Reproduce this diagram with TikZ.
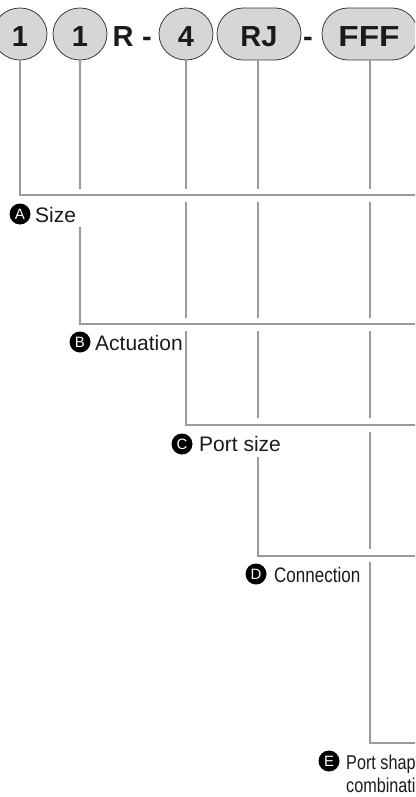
\documentclass[tikz,border=0pt]{standalone}
\usepackage{fontspec}
\setmainfont{Liberation Sans}
\usetikzlibrary{shapes.geometric,shapes.misc}
\definecolor{linegray}{HTML}{9A9A9A}
\definecolor{edgegray}{HTML}{3A3A3A}
\definecolor{fillgray}{HTML}{D6D6D6}
\definecolor{txt}{HTML}{1A1A1A}
\tikzset{
 ln/.style={draw=linegray, line width=1.4pt, line cap=butt},
 shp/.style={draw=edgegray, fill=fillgray, line width=0.8pt, inner sep=0pt},
 ell/.style={shp, ellipse, minimum width=54pt, minimum height=52pt},
 pill/.style={shp, rounded rectangle, minimum height=52pt},
 big/.style={font=\fontsize{29}{29}\selectfont\bfseries, text=txt, inner sep=0pt, anchor=base},
 badge/.style={circle, fill=black, text=white, minimum size=21pt, inner sep=0pt, font=\fontsize{15}{15}\selectfont},
 lbl/.style={font=\fontsize{21}{21}\selectfont, text=txt, inner sep=0pt, anchor=base west},
 lbls/.style={font=\fontsize{20}{20}\selectfont, text=txt, inner sep=0pt, anchor=base west},
}
\begin{document}
\begin{tikzpicture}[x=1pt,y=-1pt]
\useasboundingbox (0,0) rectangle (415,797);
\clip (0,0) rectangle (415,797);
% top code shapes
\node[ell] (n1) at (20,34) {};
\node[ell] (n2) at (80,34) {};
\node[ell] (n3) at (186,34) {};
\node[pill, minimum width=84pt] (n4) at (259,34) {};
\node[pill, minimum width=96pt] (n5) at (370,34) {};
\node[big] (t1) at (20,47) {1};
\node[big] (t2) at (80,47) {1};
\node[big] (tR) at (123,47) {R};
\node[big] (d1) at (147,47) {-};
\node[big] (t3) at (186,47) {4};
\node[big] (t4) at (259,47) {RJ};
\node[big] (d2) at (308,47) {-};
\node[big] (t5) at (369,47) {\scalebox{1.15}[1]{FFF}};
% level y coordinates
\coordinate (aR) at (416,195);
\coordinate (bR) at (416,324);
\coordinate (cR) at (416,425);
\coordinate (dR) at (416,556);
\coordinate (eR) at (416,743);
\coordinate (gA1) at (0,189); \coordinate (gA2) at (0,202);
\coordinate (gB1) at (0,318); \coordinate (gB2) at (0,331);
\coordinate (gC1) at (0,418); \coordinate (gC2) at (0,432);
\coordinate (gD1) at (0,549); \coordinate (gD2) at (0,562);
\coordinate (rA) at (0,227);
\coordinate (rC) at (0,457);
% A
\draw[ln] (n1.south) |- (aR);
% B
\draw[ln] (n2.south) -- (n2.south |- gA1);
\draw[ln] (n2.south |- rA) |- (bR);
% C
\draw[ln] (n3.south) -- (n3.south |- gA1);
\draw[ln] (n3.south |- gA2) -- (n3.south |- gB1);
\draw[ln] (n3.south |- gB2) |- (cR);
% D
\coordinate (x4) at (258,60);
\draw[ln] (x4) -- (x4 |- gA1);
\draw[ln] (x4 |- gA2) -- (x4 |- gB1);
\draw[ln] (x4 |- gB2) -- (x4 |- gC1);
\draw[ln] (x4 |- rC) |- (dR);
% E
\draw[ln] (n5.south) -- (n5.south |- gA1);
\draw[ln] (n5.south |- gA2) -- (n5.south |- gB1);
\draw[ln] (n5.south |- gB2) -- (n5.south |- gC1);
\draw[ln] (n5.south |- gC2) -- (n5.south |- gD1);
\draw[ln] (n5.south |- gD2) |- (eR);
% labels
\node[badge] (bA) at (20,214) {A};
\node[lbl] (lA) at (35,222) {Size};
\node[badge] (bB) at (80,342) {B};
\node[lbl] (lB) at (95,350) {Actuation};
\node[badge] (bC) at (182,444) {C};
\node[lbl] (lC) at (199,451) {Port size};
\node[badge] (bD) at (256,574) {D};
\node[lbl] (lD) at (274,582) {\scalebox{0.81}[1]{Connection}};
\node[badge] (bE) at (329,761) {E};
\node[lbls] (lE1) at (346,769) {\scalebox{0.81}[1]{Port shape}};
\node[lbls] (lE2) at (346,792) {\scalebox{0.81}[1]{combination}};
\end{tikzpicture}
\end{document}
